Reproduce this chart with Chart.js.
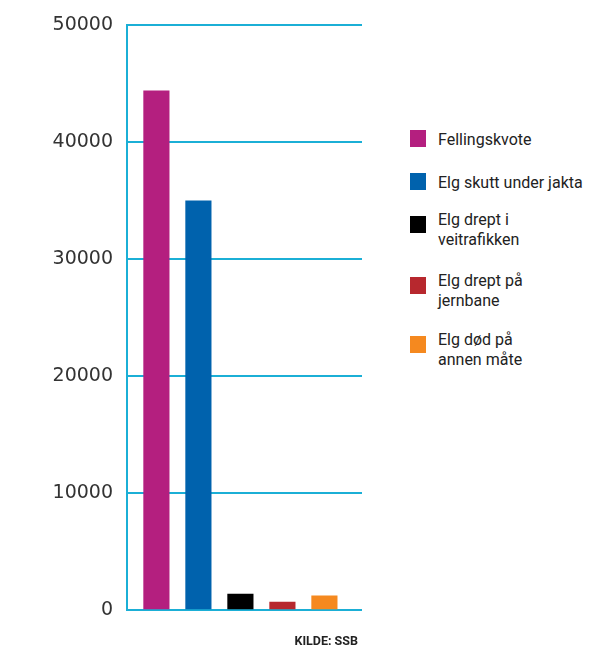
<!DOCTYPE html>
<html>
<head>
<meta charset="utf-8">
<script src="https://cdn.jsdelivr.net/npm/chart.js"></script>
<style>
  html, body { margin: 0; padding: 0; background: #fff; }
  #wrap { position: relative; width: 592px; height: 648px; overflow: hidden; }
  #chartBox { position: absolute; left: 0; top: 0; width: 372px; height: 648px; }
  #legend { position: absolute; left: 410px; top: 0; font-family: Roboto, sans-serif; font-size: 16px; line-height: 20px; color: #222; }
  .item { position: absolute; left: 0; white-space: nowrap; }
  .sw { position: absolute; left: 0; width: 16px; height: 17px; }
  .txt { position: absolute; left: 28px; }
  #source { position: absolute; right: 234px; top: 633px; font-family: Roboto, sans-serif; font-weight: bold; font-size: 12.5px; color: #222; }
</style>
</head>
<body>
<div id="wrap">
  <div id="chartBox"><canvas id="elg"></canvas></div>
  <div id="legend"></div>
  <div id="source">KILDE: SSB</div>
</div>
<script>
// Elg: kvote, skutt og andre dødsårsaker
const categories = ["Fellingskvote", "Elg skutt under jakta", "Elg drept i\nveitrafikken", "Elg drept på\njernbane", "Elg død på\nannen måte"];
const values = [44400, 35000, 1360, 680, 1220];
const colors = ["#b41f7f", "#0062ad", "#000000", "#b7282e", "#f5891f"];
const yTicks = [0, 10000, 20000, 30000, 40000, 50000];

const cyan = "#1bafd6";

// legende som html, fordi noen tekster går over to linjer
const legendTops = [130, 173, 210, 271, 330];
const legend = document.getElementById("legend");
categories.forEach((c, i) => {
    const lines = c.split("\n");
    const item = document.createElement("div");
    item.className = "item";
    item.style.top = legendTops[i] + "px";
    const sw = document.createElement("div");
    sw.className = "sw";
    sw.style.background = colors[i];
    sw.style.top = (lines.length > 1 ? 6 : 0) + "px";
    const txt = document.createElement("div");
    txt.className = "txt";
    txt.style.top = "0px";
    txt.innerHTML = lines.join("<br>");
    item.appendChild(sw);
    item.appendChild(txt);
    legend.appendChild(item);
});

new Chart(document.getElementById("elg"), {
    type: "bar",
    data: {
        datasets: [{
            data: values.map((v, i) => ({x: i, y: v})),
            backgroundColor: colors,
            barThickness: 25.5,
            borderWidth: 0
        }]
    },
    options: {
        responsive: true,
        maintainAspectRatio: false,
        animation: false,
        layout: { padding: { top: 19, right: 10, bottom: 38, left: 0 } },
        plugins: {
            legend: { display: false },
            tooltip: { enabled: false }
        },
        scales: {
            x: {
                type: "linear",
                min: -0.70,
                max: 4.895,
                offset: false,
                display: false
            },
            y: {
                min: 0,
                max: 50000,
                afterFit(scale) { scale.width = 127; },
                afterBuildTicks(scale) { scale.ticks = yTicks.map(v => ({value: v})); },
                grid: { color: cyan, lineWidth: 2, drawTicks: false },
                border: { display: true, color: cyan, width: 2 },
                ticks: {
                    padding: 14,
                    color: "#333",
                    font: { family: "DejaVu Sans", size: 19 },
                    callback: v => String(v)
                }
            }
        }
    }
});
</script>
</body>
</html>
